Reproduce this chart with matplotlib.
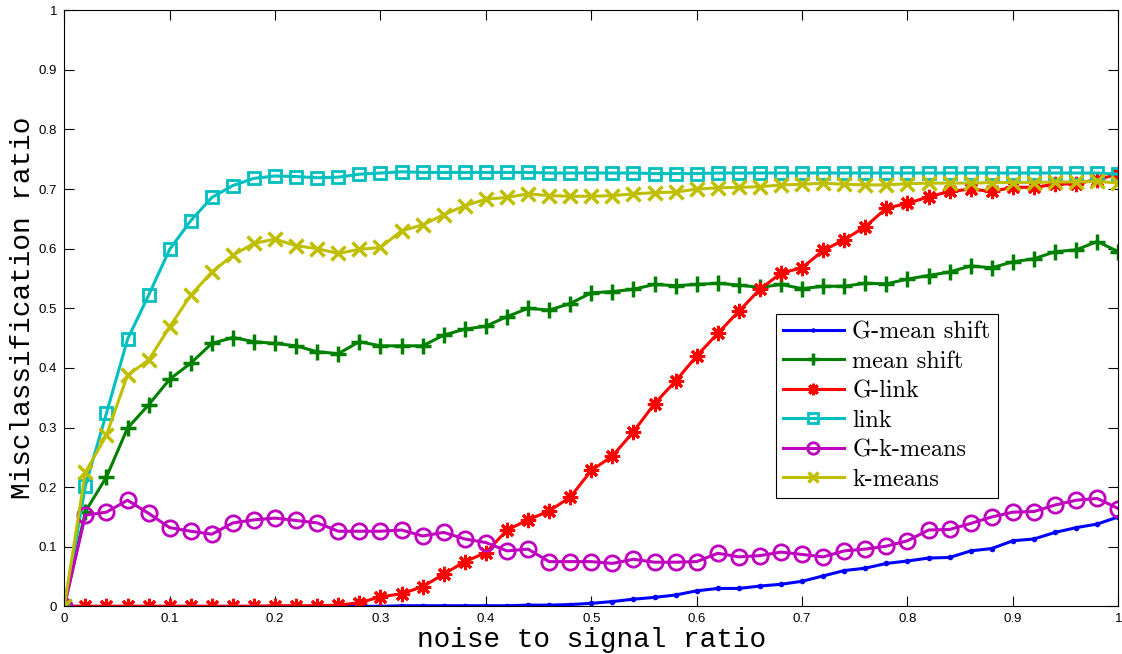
import matplotlib
matplotlib.use("Agg")
import matplotlib.pyplot as plt
import numpy as np

x = np.round(np.arange(0, 1.0001, 0.02), 2)

g_mean_shift = [0.0, 0.0, 0.0, 0.0, 0.0, 0.0, 0.0, 0.0, 0.0, 0.0,
                0.0, 0.0, 0.0, 0.0, 0.0, 0.0, 0.001, 0.001, 0.001, 0.001,
                0.001, 0.001, 0.002, 0.002, 0.003, 0.005, 0.008, 0.012, 0.015, 0.019,
                0.026, 0.030, 0.030, 0.034, 0.037, 0.042, 0.051, 0.060, 0.064, 0.072,
                0.076, 0.081, 0.082, 0.093, 0.097, 0.110, 0.113, 0.124, 0.132, 0.138,
                0.150]
mean_shift = [0.0, 0.159, 0.217, 0.299, 0.338, 0.381, 0.408, 0.441, 0.451, 0.444,
              0.441, 0.437, 0.427, 0.424, 0.444, 0.437, 0.437, 0.437, 0.455, 0.465,
              0.470, 0.486, 0.500, 0.497, 0.508, 0.526, 0.528, 0.532, 0.540, 0.538,
              0.540, 0.542, 0.539, 0.535, 0.540, 0.533, 0.537, 0.537, 0.542, 0.541,
              0.549, 0.555, 0.561, 0.571, 0.568, 0.578, 0.583, 0.595, 0.598, 0.612,
              0.595]
g_link = [0.0, 0.0, 0.0, 0.0, 0.0, 0.0, 0.0, 0.0, 0.0, 0.0,
          0.001, 0.001, 0.001, 0.002, 0.006, 0.016, 0.021, 0.033, 0.054, 0.075,
          0.090, 0.128, 0.145, 0.160, 0.183, 0.228, 0.252, 0.293, 0.340, 0.378,
          0.420, 0.458, 0.495, 0.532, 0.559, 0.568, 0.597, 0.615, 0.637, 0.668,
          0.676, 0.687, 0.696, 0.700, 0.696, 0.703, 0.703, 0.708, 0.709, 0.716,
          0.725]
link = [0.0, 0.202, 0.324, 0.448, 0.522, 0.599, 0.647, 0.686, 0.706, 0.718,
        0.722, 0.721, 0.719, 0.720, 0.725, 0.727, 0.729, 0.728, 0.728, 0.728,
        0.728, 0.728, 0.728, 0.727, 0.727, 0.727, 0.727, 0.727, 0.726, 0.726,
        0.726, 0.727, 0.727, 0.727, 0.727, 0.727, 0.727, 0.727, 0.727, 0.727,
        0.727, 0.727, 0.727, 0.727, 0.727, 0.727, 0.727, 0.727, 0.727, 0.727,
        0.725]
g_kmeans = [0.0, 0.153, 0.158, 0.178, 0.156, 0.132, 0.126, 0.121, 0.140, 0.145,
            0.148, 0.144, 0.140, 0.126, 0.126, 0.126, 0.128, 0.118, 0.124, 0.113,
            0.107, 0.093, 0.096, 0.075, 0.075, 0.075, 0.072, 0.079, 0.074, 0.074,
            0.075, 0.089, 0.083, 0.085, 0.091, 0.087, 0.083, 0.093, 0.096, 0.101,
            0.110, 0.128, 0.129, 0.139, 0.150, 0.158, 0.159, 0.170, 0.178, 0.181,
            0.164]
kmeans = [0.0, 0.225, 0.287, 0.388, 0.413, 0.469, 0.522, 0.561, 0.589, 0.609,
          0.616, 0.605, 0.600, 0.592, 0.599, 0.602, 0.630, 0.640, 0.657, 0.672,
          0.683, 0.686, 0.692, 0.689, 0.688, 0.688, 0.689, 0.692, 0.694, 0.695,
          0.700, 0.702, 0.703, 0.704, 0.707, 0.708, 0.710, 0.708, 0.707, 0.707,
          0.709, 0.710, 0.710, 0.710, 0.711, 0.711, 0.711, 0.712, 0.712, 0.713,
          0.710]

fig = plt.figure(figsize=(11.22, 6.54), dpi=100)
ax = fig.add_axes([0.0573, 0.0729, 0.9394, 0.9114])

lw = 2.2
mew = 2.0
# asterisk marker like matlab '*'
asterisk = (8, 2, 0)
ax.plot(x, g_mean_shift, color=(0, 0, 1), marker='.', ms=6, lw=lw, label='G-mean shift')
ax.plot(x, mean_shift, color=(0, 0.5, 0), marker='+', ms=12, mew=mew + 0.5, lw=lw, label='mean shift')
ax.plot(x, g_link, color=(1, 0, 0), marker=asterisk, ms=11, mew=2.2, lw=lw, label='G-link')
ax.plot(x, link, color=(0, 0.75, 0.75), marker='s', ms=9, mfc='none', mew=mew, lw=lw, label='link')
ax.plot(x, g_kmeans, color=(0.75, 0, 0.75), marker='o', ms=11, mfc='none', mew=mew, lw=lw, label='G-k-means')
ax.plot(x, kmeans, color=(0.75, 0.75, 0), marker='x', ms=10, mew=mew + 0.5, lw=lw, label='k-means')

ax.set_xlim(0, 1)
ax.set_ylim(0, 1)
ticks = np.round(np.arange(0, 1.01, 0.1), 1)
ax.set_xticks(ticks)
ax.set_yticks(ticks)
ax.set_xticklabels(['0'] + ['%.1f' % t for t in ticks[1:-1]] + ['1'], fontfamily='Liberation Sans', fontsize=9.5)
ax.set_yticklabels(['0'] + ['%.1f' % t for t in ticks[1:-1]] + ['1'], fontfamily='Liberation Sans', fontsize=9.5)
ax.tick_params(direction='in', length=7, width=0.8, top=True, right=True, pad=5)

ax.set_xlabel('noise to signal ratio', fontfamily='Liberation Mono', fontsize=20, labelpad=1)
ax.set_ylabel('Misclassification ratio', fontfamily='Liberation Mono', fontsize=20, labelpad=2)

leg = ax.legend(loc='upper left', bbox_to_anchor=(0.675, 0.4904), prop={'family': 'cmr10', 'size': 17.5},
                frameon=True, fancybox=False, edgecolor='black', framealpha=1,
                handlelength=2.5, borderpad=0.3, labelspacing=0.3, handletextpad=0.35,
                borderaxespad=0, markerscale=0.75)
leg.get_frame().set_linewidth(0.8)

fig.savefig('out.png', dpi=100)
